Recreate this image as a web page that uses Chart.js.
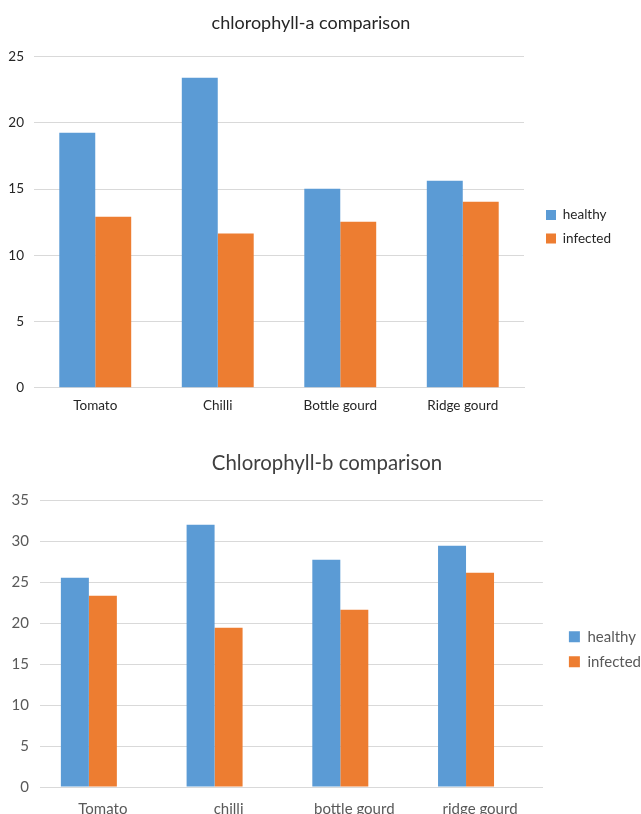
<!DOCTYPE html>
<html>
<head>
<meta charset="utf-8">
<script src="https://cdn.jsdelivr.net/npm/chart.js@4.4.1/dist/chart.umd.min.js"></script>
<style>
  html, body { margin: 0; padding: 0; background: #fff; overflow: hidden; }
  .box { position: absolute; left: 0; width: 641px; }
  #boxA { top: 0; height: 432px; }
  #boxB { top: 440px; height: 395px; }
</style>
</head>
<body>
<div class="box" id="boxA"><canvas id="chartA" width="641" height="432"></canvas></div>
<div class="box" id="boxB"><canvas id="chartB" width="641" height="395"></canvas></div>
<script>
// Chlorophyll-a contents per crop
const cropsA = ['Tomato', 'Chilli', 'Bottle gourd', 'Ridge gourd'];
const healthyA = [19.25, 23.4, 15.03, 15.63];
const infectedA = [12.92, 11.64, 12.54, 14.05];
const ticksA = { min: 0, max: 25, step: 5 };

// Chlorophyll-b contents per crop
const cropsB = ['Tomato', 'chilli', 'bottle gourd', 'ridge gourd'];
const healthyB = [25.55, 32.03, 27.75, 29.46];
const infectedB = [23.35, 19.44, 21.64, 26.16];
const blankB = [null, null, null, null];
const ticksB = { min: 0, max: 35, step: 5 };

const BLUE = '#5b9bd5';
const ORANGE = '#ed7d31';
const FONT = 'Lato, "Open Sans", sans-serif';

function makeChart(id, cfg) {
  const datasets = [
    { label: 'healthy', data: cfg.healthy, backgroundColor: BLUE },
    { label: 'infected', data: cfg.infected, backgroundColor: ORANGE }
  ];
  // an empty third series keeps its slot in each group
  if (cfg.blank) datasets.push({ label: '', data: cfg.blank, backgroundColor: 'rgba(0,0,0,0)' });

  return new Chart(document.getElementById(id), {
    type: 'bar',
    data: { labels: cfg.labels, datasets },
    options: {
      responsive: false,
      animation: false,
      devicePixelRatio: 1,
      layout: { padding: cfg.padding },
      datasets: { bar: { categoryPercentage: cfg.catPct, barPercentage: 1 } },
      plugins: {
        tooltip: { enabled: false },
        title: {
          display: true,
          text: cfg.title,
          color: cfg.titleColor,
          font: { family: FONT, size: cfg.titleSize, weight: 'normal' },
          padding: cfg.titlePad
        },
        legend: {
          position: 'right',
          fullSize: false,
          // blank heading nudges the entries slightly downwards
          title: {
            display: true,
            text: ' ',
            font: { size: 1 },
            padding: { top: cfg.legendDrop * 2 - 1.2, bottom: 0 }
          },
          labels: {
            filter: item => item.text !== '',
            boxWidth: cfg.legendBox,
            boxHeight: cfg.legendBox,
            padding: cfg.legendGap,
            color: cfg.textColor,
            font: { family: FONT, size: cfg.legendSize }
          }
        }
      },
      scales: {
        x: {
          grid: { display: false, drawTicks: false },
          border: { display: true, color: '#d9d9d9', width: 1 },
          ticks: {
            color: cfg.textColor,
            padding: cfg.xPad,
            maxRotation: 0,
            font: { family: FONT, size: cfg.tickSize }
          }
        },
        y: {
          min: cfg.ticks.min,
          max: cfg.ticks.max,
          afterFit: s => { s.width = cfg.yWidth; },
          grid: { color: '#d9d9d9', drawTicks: false },
          border: { display: false },
          ticks: {
            stepSize: cfg.ticks.step,
            color: cfg.textColor,
            padding: cfg.yPad,
            font: { family: FONT, size: cfg.tickSize }
          }
        },
        // blank strip between the plot and the legend
        gap: {
          type: 'linear',
          position: 'right',
          afterFit: s => { s.width = cfg.legendSpace; },
          grid: { display: false, drawTicks: false },
          border: { display: false },
          ticks: { display: false }
        }
      }
    }
  });
}

makeChart('chartA', {
  labels: cropsA, healthy: healthyA, infected: infectedA, ticks: ticksA,
  title: 'chlorophyll-a comparison', titleSize: 18, titleColor: '#262626',
  titlePad: { top: 12, bottom: 23 }, textColor: '#262626',
  tickSize: 13.5, legendSize: 13.5, legendBox: 10, legendGap: 10,
  legendDrop: 4.5,
  catPct: 0.587, xPad: 10, yPad: 10, yWidth: 33, legendSpace: 12,
  padding: { left: 1, right: 20, top: 0, bottom: 8 }
});

makeChart('chartB', {
  labels: cropsB, healthy: healthyB, infected: infectedB, blank: blankB, ticks: ticksB,
  title: 'Chlorophyll-b comparison', titleSize: 20.4, titleColor: '#404040',
  titlePad: { top: 11, bottom: 25 }, textColor: '#595959',
  tickSize: 15, legendSize: 15, legendBox: 11, legendGap: 10,
  legendDrop: 5.5,
  catPct: 0.668, xPad: 13, yPad: 11, yWidth: 37, legendSpace: 16,
  padding: { left: 3, right: -10, top: 0, bottom: 4 }
});
</script>
</body>
</html>
